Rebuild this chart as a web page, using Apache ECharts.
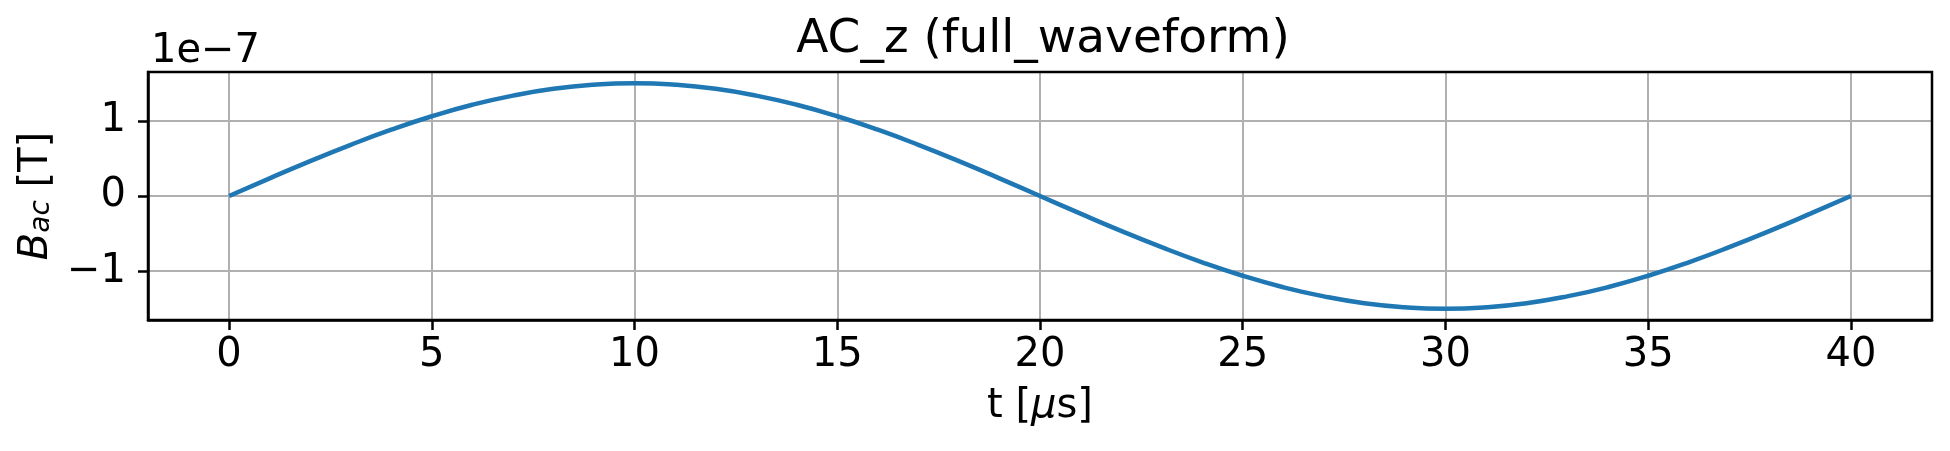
<!DOCTYPE html>
<html>
<head>
<meta charset="utf-8">
<script src="https://cdn.jsdelivr.net/npm/echarts@6/dist/echarts.min.js"></script>
<style>
html, body { margin: 0; padding: 0; background: #fff; }
#chart { width: 1950px; height: 451px; }
</style>
</head>
<body>
<div id="chart"></div>
<script>
// time in microseconds
var tValues = [0, 1, 2, 3, 4, 5, 6, 7, 8, 9, 10, 11, 12, 13, 14, 15, 16, 17, 18, 19, 20,
               21, 22, 23, 24, 25, 26, 27, 28, 29, 30, 31, 32, 33, 34, 35, 36, 37, 38, 39, 40];
// B_ac in units of 1e-7 T
var bValues = [0, 0.235, 0.464, 0.681, 0.882, 1.061, 1.214, 1.336, 1.427, 1.481, 1.5,
               1.481, 1.427, 1.336, 1.214, 1.061, 0.882, 0.681, 0.464, 0.235, 0,
               -0.235, -0.464, -0.681, -0.882, -1.061, -1.214, -1.336, -1.427, -1.481, -1.5,
               -1.481, -1.427, -1.336, -1.214, -1.061, -0.882, -0.681, -0.464, -0.235, 0];
var xTicks = [0, 5, 10, 15, 20, 25, 30, 35, 40];
var yTicks = [-1, 0, 1];

var font = 'DejaVu Sans';

function initWaveChart() {
	var points = [];
	for (var i = 0; i < tValues.length; i++) {
		points.push([tValues[i], bValues[i]]);
	}
	var option = {
		animation : false,
		textStyle : { fontFamily : font },
		title : [ {
			text : 'AC_z (full_waveform)',
			left : 1038,
			top : 11,
			textAlign : 'center',
			textStyle : { color : '#000', fontFamily : font, fontSize : 47, fontWeight : 'normal' }
		}, {
			text : '1e\u22127',
			left : 146,
			top : 27,
			textStyle : { color : '#000', fontFamily : font, fontSize : 40, fontWeight : 'normal' }
		} ],
		grid : { left : 148, right : 18, top : 72, bottom : 131 },
		xAxis : {
			type : 'value',
			min : -2,
			max : 42,
			name : 't [{i|\u03bc}s]',
			nameLocation : 'middle',
			nameGap : 67,
			nameTextStyle : {
				color : '#000', fontFamily : font, fontSize : 40,
				rich : { i : { fontStyle : 'italic', fontFamily : font, fontSize : 40, color : '#000' } }
			},
			axisLine : { show : true, onZero : false, lineStyle : { color : '#000', width : 2.5 } },
			axisTick : { show : true, length : 10, customValues : xTicks, lineStyle : { color : '#000', width : 2.5 } },
			axisLabel : { customValues : xTicks, color : '#000', fontSize : 40, fontFamily : font, margin : 16 },
			splitLine : { show : true, lineStyle : { color : '#b0b0b0', width : 2 } }
		},
		yAxis : {
			type : 'value',
			min : -1.65,
			max : 1.65,
			name : '{b|B}{s|ac} [T]',
			nameLocation : 'middle',
			nameGap : 85,
			nameRotate : 90,
			nameTextStyle : {
				color : '#000', fontFamily : font, fontSize : 40,
				rich : {
					b : { fontStyle : 'italic', fontFamily : font, fontSize : 40, color : '#000' },
					s : { fontStyle : 'italic', fontFamily : font, fontSize : 28, color : '#000', verticalAlign : 'bottom', padding : [12, 0, 0, 0] }
				}
			},
			axisLine : { show : true, onZero : false, lineStyle : { color : '#000', width : 2.5 } },
			axisTick : { show : true, length : 10, customValues : yTicks, lineStyle : { color : '#000', width : 2.5 } },
			axisLabel : {
				customValues : yTicks, color : '#000', fontSize : 40, fontFamily : font, margin : 22,
				formatter : function(v) { return String(v).replace('-', '\u2212'); }
			},
			splitLine : { show : true, lineStyle : { color : '#b0b0b0', width : 2 } }
		},
		series : [ {
			type : 'line',
			data : points,
			showSymbol : false,
			smooth : true,
			lineStyle : { color : '#1f77b4', width : 4.5 }
		} ]
	};
	var chart = echarts.init(document.getElementById('chart'));
	chart.setOption(option);
	// right and top spines of the axes box
	chart.setOption({
		graphic : [ {
			type : 'rect',
			shape : { x : 148, y : 72, width : 1950 - 148 - 18, height : 451 - 72 - 131 },
			style : { fill : 'none', stroke : '#000', lineWidth : 2.5 },
			silent : true,
			z : 100
		} ]
	});
}
initWaveChart();
</script>
</body>
</html>
